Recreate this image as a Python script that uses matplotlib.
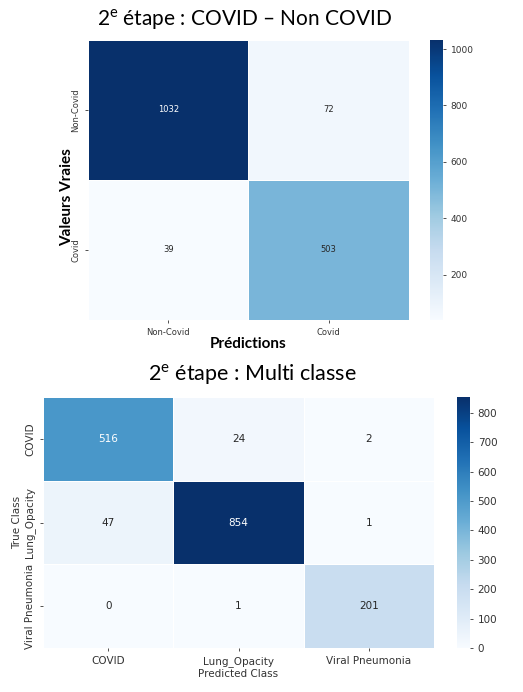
import numpy as np
import matplotlib
matplotlib.use("Agg")
import matplotlib.pyplot as plt
import seaborn as sns

plt.rcParams['mathtext.fontset'] = 'custom'
plt.rcParams['mathtext.rm'] = 'Lato'

# binary step
bin_labels = ['Non-Covid', 'Covid']
bin_cm = np.array([[1032, 72],
                   [39, 503]])

# multi-class step
multi_labels = ['COVID', 'Lung_Opacity', 'Viral Pneumonia']
multi_cm = np.array([[516, 24, 2],
                     [47, 854, 1],
                     [0, 1, 201]])

W, H = 523, 692
fig = plt.figure(figsize=(W / 100, H / 100), dpi=100)

def box(left, top, right, bottom):
    return [left / W, 1 - bottom / H, (right - left) / W, (bottom - top) / H]

# ---- top heatmap
ax1 = fig.add_axes(box(88, 40, 409, 320))
cax1 = fig.add_axes(box(430, 40, 443, 320))
sns.heatmap(bin_cm, annot=True, fmt='d', cmap='Blues', ax=ax1, cbar_ax=cax1,
            linewidths=0.5, linecolor='white',
            annot_kws={'fontsize': 6},
            xticklabels=bin_labels, yticklabels=bin_labels)
ax1.tick_params(axis='both', labelsize=6, length=2, width=0.6, colors='#333333')
ax1.set_yticklabels(bin_labels, rotation=90, va='center')
ax1.set_xlabel('Prédictions', fontsize=11, fontweight='bold', family='Lato', labelpad=0)
ax1.set_ylabel('')
fig.text(67 / W, 1 - 197 / H, 'Valeurs Vraies', rotation=90, ha='center', va='center',
         fontsize=11, fontweight='bold', family='Lato')
cax1.tick_params(labelsize=6.5, length=2, width=0.6, colors='#333333')
fig.text(245 / W, 1 - 20 / H, '2$^{\\mathrm{e}}$ étape : COVID – Non COVID',
         ha='center', va='center', fontsize=15, family='Lato')

# ---- bottom heatmap
ax2 = fig.add_axes(box(43, 397, 434, 648))
cax2 = fig.add_axes(box(457, 397, 470, 648))
sns.heatmap(multi_cm, annot=True, fmt='d', cmap='Blues', ax=ax2, cbar_ax=cax2,
            linewidths=0.5, linecolor='white',
            annot_kws={'fontsize': 7.5},
            xticklabels=multi_labels, yticklabels=multi_labels)
ax2.tick_params(axis='both', labelsize=7.5, length=2, width=0.6, colors='#333333')
ax2.set_yticklabels(multi_labels, rotation=90, va='center')
ax2.set_xlabel('Predicted Class', fontsize=7.5, color='#333333', labelpad=2)
ax2.set_ylabel('True Class', fontsize=7.5, color='#333333', labelpad=2)
cax2.tick_params(labelsize=7.5, length=2, width=0.6, colors='#333333')
fig.text(252 / W, 1 - 375 / H, '2$^{\\mathrm{e}}$ étape : Multi classe',
         ha='center', va='center', fontsize=15.5, family='Lato')

fig.savefig('out.png', dpi=100)
